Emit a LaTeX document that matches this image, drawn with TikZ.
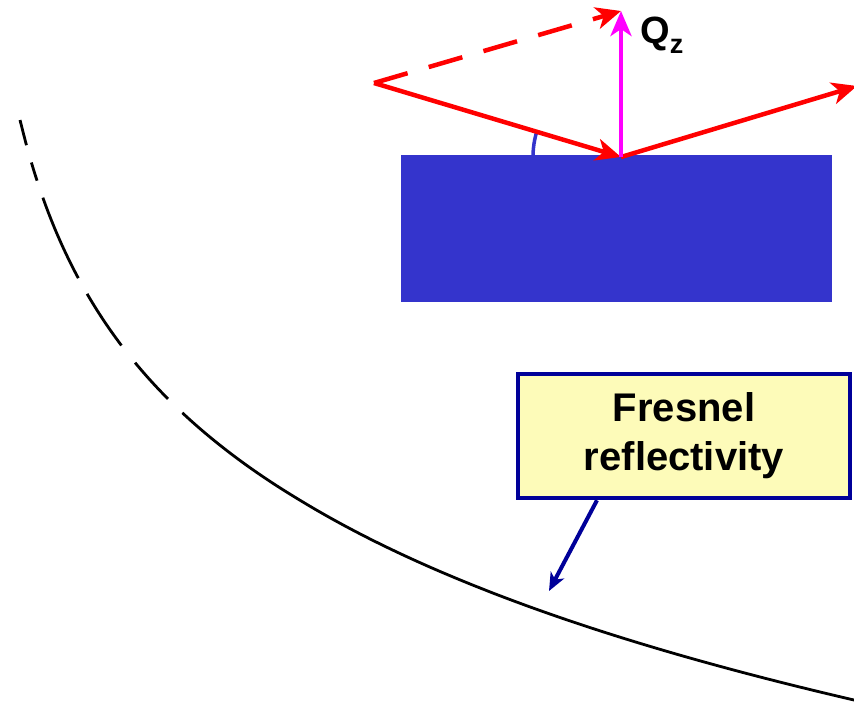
\documentclass[tikz,border=0pt]{standalone}
\usepackage{fontspec}
\setmainfont{Liberation Sans}
\usetikzlibrary{arrows.meta}
\definecolor{substrate}{RGB}{52,52,204}
\definecolor{callnavy}{RGB}{0,0,153}
\definecolor{callfill}{RGB}{253,251,185}
\definecolor{raymag}{RGB}{255,0,255}
\definecolor{rayred}{RGB}{255,0,0}
\tikzset{
  ray/.style={rayred, line width=4.5pt, -{Stealth[length=25pt,width=22pt,inset=7pt]}},
  qvec/.style={raymag, line width=4.5pt, -{Stealth[length=25pt,width=21pt,inset=7pt]}},
  callout/.style={draw=callnavy, fill=callfill, line width=4.5pt, align=center,
    minimum width=332pt, minimum height=124pt, inner sep=0pt,
    font=\bfseries\fontsize{40}{49}\selectfont},
  refl/.style={black, line width=2.8pt, line cap=butt}
}
\begin{document}
\begin{tikzpicture}[x=1pt, y=-1pt]
  \useasboundingbox (0,0) rectangle (854,702);
  \clip (0,0) rectangle (854,702);

  % Fresnel reflectivity curve (dashed at low q)
  \draw[refl, dash pattern=on 26pt off 18pt on 19pt off 18pt on 88pt off 18pt on 62pt off 22pt on 49pt off 20pt on 3000pt]
    plot[domain=20:858, samples=120, smooth] ({\x},{-634.6+196*ln(\x+27)+0.01*max(\x-300,0)});

  % callout box
  \node[callout] (fresnel) at (684,436) {Fresnel\\reflectivity};
  \coordinate (oncurve) at (549,591);
  \draw[callnavy, line width=4pt, -{Stealth[length=18pt,width=15pt,inset=5pt]}]
    ([xshift=-87pt]fresnel.south) -- (oncurve);

  % substrate
  \fill[substrate] (401,155) rectangle (832,302);

  % scattering geometry
  \coordinate (src) at (374,83);
  \coordinate (hit) at (621,157);
  \coordinate (qtop) at (621,11);
  \coordinate (out) at (857,86);

  % grazing angle
  \draw[substrate, line width=3.5pt] ([xshift=-88pt]hit) arc[start angle=180, end angle=197, radius=88];

  \draw[ray] (src) -- (hit);
  \draw[ray] (hit) -- (out);
  \draw[ray, dash pattern=on 35pt off 22pt] (src) -- (qtop);
  \draw[qvec] (hit) -- (qtop);

  \node[anchor=base west, inner sep=0pt, font=\bfseries\fontsize{38}{38}\selectfont] (qz)
    at (640,43) {Q\raisebox{-10pt}{\fontsize{27}{27}\selectfont z}};
\end{tikzpicture}
\end{document}
